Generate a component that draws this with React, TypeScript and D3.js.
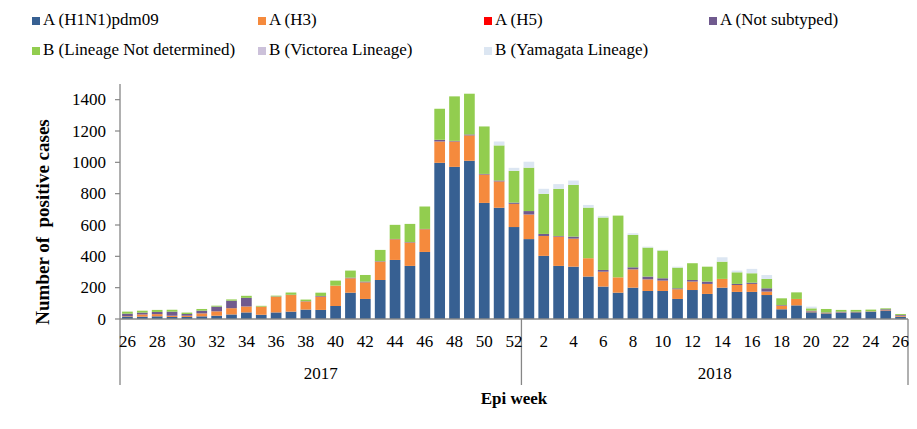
import React from "react";
import * as d3 from "d3";

const weekLabels: string[] = [
  "26","27","28","29","30","31","32","33","34","35","36","37","38","39","40","41","42","43","44","45","46","47","48","49","50","51","52",
  "1","2","3","4","5","6","7","8","9","10","11","12","13","14","15","16","17","18","19","20","21","22","23","24","25","26",
];
const yearOf: string[] = weekLabels.map((_, i) => (i < 27 ? "2017" : "2018"));
const years: string[] = ["2017", "2018"];

const h1n1: number[] = [
  16,15,17,13,13,17,21,29,42,27,42,47,60,58,83,168,128,249,377,339,428,997,971,1010,741,710,587,
  510,403,339,334,271,207,168,200,179,179,128,185,160,200,173,173,153,62,87,43,36,40,43,45,51,15,
];
const h3: number[] = [
  3,14,14,8,8,19,28,40,38,52,100,106,52,85,130,92,106,117,132,149,145,136,162,162,181,168,148,
  157,127,187,179,117,95,98,117,74,66,62,54,64,56,44,51,22,23,41,5,3,2,2,2,4,6,
];
const h5: number[] = new Array(53).fill(0);
const notSubtyped: number[] = [
  15,12,14,26,11,17,30,48,55,0,2,2,2,4,0,4,5,3,2,3,2,11,4,6,4,6,8,
  22,13,4,13,0,11,0,13,18,15,6,10,15,0,7,8,21,4,0,5,3,5,2,2,7,5,
];
const bNotDetermined: number[] = [
  13,12,13,12,9,11,6,8,13,5,5,14,10,21,32,45,42,72,90,116,143,198,284,260,303,224,203,
  277,256,301,330,323,335,394,207,185,177,132,107,95,110,74,60,60,43,42,15,22,11,11,11,6,6,
];
const bVictoria: number[] = new Array(53).fill(0);
const bYamagata: number[] = [
  0,0,0,0,0,0,0,0,0,0,0,0,0,0,0,0,0,0,0,0,0,0,0,0,0,25,19,
  38,32,30,28,17,10,0,10,6,4,6,0,0,28,11,28,25,0,0,11,0,0,0,0,0,0,
];

const seriesNames: string[] = [
  "A (H1N1)pdm09",
  "A (H3)",
  "A (H5)",
  "A (Not subtyped)",
  "B (Lineage Not determined)",
  "B (Victorea Lineage)",
  "B (Yamagata Lineage)",
];
const seriesColors: string[] = ["#376092", "#F58A3D", "#FF0000", "#705A8E", "#92CD4F", "#CCC1DA", "#DCE6F2"];
const yTicks: number[] = [0, 200, 400, 600, 800, 1000, 1200, 1400];

const FONT = "Liberation Serif";

export default function App() {
  const W = 917, H = 429;
  const left = 120, right = 908, top = 84, bottom = 319;
  const seriesData = [h1n1, h3, h5, notSubtyped, bNotDetermined, bVictoria, bYamagata];
  const keys = weekLabels.map((w, i) => `${yearOf[i]}-${w}`);
  const rows = keys.map((k, i) => {
    const r: any = { key: k };
    seriesNames.forEach((s, j) => (r[s] = seriesData[j][i]));
    return r;
  });
  const stacked = d3.stack<any>().keys(seriesNames)(rows);

  const x = d3.scaleBand<string>().domain(keys).range([left, right]).paddingInner(0.28).paddingOuter(0.14);
  const y = d3.scaleLinear().domain([0, 1500]).range([bottom, top]);
  const axisColor = "#868686";

  const yearBounds = years.map((yr) => {
    const idx = keys.map((k, i) => (yearOf[i] === yr ? i : -1)).filter((i) => i >= 0);
    const a = x(keys[idx[0]])! - (x.step() * x.paddingInner()) / 2;
    const b = x(keys[idx[idx.length - 1]])! + x.bandwidth() + (x.step() * x.paddingInner()) / 2;
    return { yr, a, b };
  });

  const legendCols = [32, 258, 484, 709];
  const ts = { fontFamily: FONT } as React.CSSProperties;

  return (
    <svg width={W} height={H} style={{ position: "absolute", left: 0, top: 0, background: "#fff" }}>
      <rect width={W} height={H} fill="#fff" />
      {/* legend */}
      {seriesNames.map((s, i) => {
        const col = i % 4;
        const row = Math.floor(i / 4);
        const lx = legendCols[col];
        const ly = 17 + row * 30;
        return (
          <g key={s}>
            <rect x={lx} y={ly} width={8} height={8} fill={seriesColors[i]} />
            <text x={lx + 11} y={ly + 8} fontSize={17} fill="#000" style={ts}>{s}</text>
          </g>
        );
      })}
      {/* bars */}
      {stacked.map((layer, si) => (
        <g key={layer.key} fill={seriesColors[si]}>
          {layer.map((d, i) => {
            const h = y(d[0]) - y(d[1]);
            if (h <= 0) return null;
            return <rect key={i} x={x(keys[i])} y={y(d[1])} width={x.bandwidth()} height={h} />;
          })}
        </g>
      ))}
      {/* y axis */}
      <line x1={left} x2={left} y1={top} y2={bottom} stroke={axisColor} strokeWidth={1.3} />
      {yTicks.map((t) => (
        <g key={t}>
          <line x1={left - 5} x2={left} y1={y(t)} y2={y(t)} stroke={axisColor} strokeWidth={1.2} />
          <text x={106} y={y(t) + 5.5} fontSize={17} textAnchor="end" fill="#000" style={ts}>{t}</text>
        </g>
      ))}
      {/* x axis */}
      <line x1={left} x2={right} y1={bottom} y2={bottom} stroke={axisColor} strokeWidth={1.5} />
      {[left, yearBounds[0].b, right].map((xx, i) => (
        <line key={i} x1={xx} x2={xx} y1={bottom} y2={385} stroke={axisColor} strokeWidth={1.3} />
      ))}
      {keys.map((k, i) =>
        (i % 2 === 0) ? (
          <text key={k} x={x(k)! + x.bandwidth() / 2} y={347} fontSize={17} textAnchor="middle" fill="#000" style={ts}>
            {weekLabels[i]}
          </text>
        ) : null
      )}
      {yearBounds.map((b) => (
        <text key={b.yr} x={(b.a + b.b) / 2} y={379} fontSize={17} textAnchor="middle" fill="#000" style={ts}>{b.yr}</text>
      ))}
      <text x={514} y={404} fontSize={17} fontWeight="bold" textAnchor="middle" fill="#000" style={ts}>Epi week</text>
      <text
        transform={`translate(49,222) rotate(-90)`}
        fontSize={19}
        fontWeight="bold"
        textAnchor="middle"
        fill="#000"
        style={{ ...ts, whiteSpace: "pre" }}
      >
        Number of  positive cases
      </text>
    </svg>
  );
}
